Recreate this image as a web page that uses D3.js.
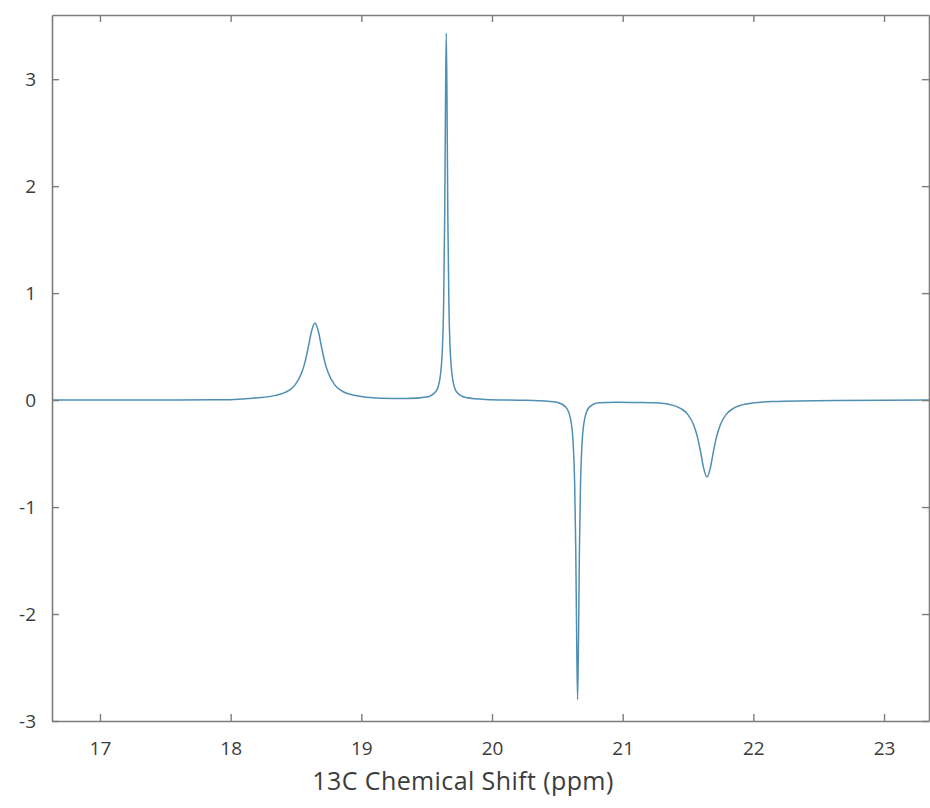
<!DOCTYPE html>
<html>
<head>
<meta charset="utf-8">
<script src="https://cdn.jsdelivr.net/npm/d3@7"></script>
<style>
  body { margin: 0; background: #fff; }
  svg { display: block; }
</style>
</head>
<body>
<svg width="930" height="808"></svg>
<script>
// spectrum points (ppm, intensity)
const ppm = [16.60, 17.00, 17.60, 18.00, 18.145, 18.345, 18.445, 18.495, 18.545, 18.57, 18.595, 18.62, 18.645,
  18.67, 18.695, 18.72, 18.745, 18.795, 18.845, 18.945, 19.145, 19.35, 19.50, 19.57, 19.60, 19.62, 19.63,
  19.638, 19.644, 19.65, 19.656, 19.662, 19.67, 19.68, 19.70, 19.73, 19.80, 19.95, 20.20, 20.36, 20.495,
  20.565, 20.60, 20.62, 20.633, 20.641, 20.648, 20.655, 20.662, 20.669, 20.677, 20.69, 20.71, 20.745,
  20.815, 20.95, 21.10, 21.245, 21.345, 21.445, 21.495, 21.545, 21.575, 21.595, 21.62, 21.645, 21.67,
  21.695, 21.715, 21.745, 21.795, 21.845, 21.945, 22.145, 22.645, 23.40];
const intensity = [0, 0.001, 0.002, 0.004, 0.015, 0.044, 0.09, 0.145, 0.26, 0.36, 0.50, 0.648, 0.72,
  0.648, 0.50, 0.36, 0.26, 0.145, 0.09, 0.045, 0.018, 0.014, 0.028, 0.08, 0.19, 0.47, 0.91,
  1.72, 2.74, 3.43, 2.74, 1.72, 0.91, 0.47, 0.19, 0.076, 0.024, 0.006, -0.001, -0.006, -0.021,
  -0.066, -0.17, -0.386, -0.81, -1.4, -2.24, -2.80, -2.24, -1.4, -0.81, -0.386, -0.17, -0.066,
  -0.025, -0.02, -0.022, -0.025, -0.037, -0.079, -0.129, -0.237, -0.36, -0.477, -0.638, -0.72, -0.638,
  -0.477, -0.36, -0.237, -0.129, -0.079, -0.037, -0.014, -0.004, 0];

const xTicks = [17, 18, 19, 20, 21, 22, 23];
const yTicks = [-3, -2, -1, 0, 1, 2, 3];
const xLabel = '13C Chemical Shift (ppm)';

const svg = d3.select('svg');
const plotLeft = 52, plotRight = 929, plotTop = 15, plotBottom = 721;

const x = d3.scaleLinear().domain([16.633, 23.344]).range([plotLeft, plotRight]);
const y = d3.scaleLinear().domain([-3, 3.6]).range([plotBottom, plotTop]);

const points = ppm.map((p, i) => [p, intensity[i]]);

svg.append('defs').append('clipPath').attr('id', 'clip')
  .append('rect')
  .attr('x', plotLeft).attr('y', plotTop)
  .attr('width', plotRight - plotLeft).attr('height', plotBottom - plotTop);

// spectrum
svg.append('path')
  .datum(points)
  .attr('clip-path', 'url(#clip)')
  .attr('fill', 'none')
  .attr('stroke', '#4f8fb3')
  .attr('stroke-width', 1.5)
  .attr('d', d3.line()
    .x(d => x(d[0]))
    .y(d => y(d[1]))
    .curve(d3.curveMonotoneX));

// axes, ticks pointing inward on all four sides
const tickLen = 7;
const plain = d => String(d);   // hyphen minus like the original
const styleAxis = g => {
  g.select('.domain').attr('stroke', '#7d7d7d').attr('stroke-width', 1.6);
  g.selectAll('.tick line').attr('stroke', '#7d7d7d').attr('stroke-width', 1.4);
  g.selectAll('.tick text')
    .attr('fill', '#3c3c3c')
    .style('font-family', '"Open Sans", sans-serif')
    .style('font-size', '19px');
};

svg.append('g')
  .attr('transform', `translate(0,${plotBottom})`)
  .call(d3.axisBottom(x).tickValues(xTicks).tickSizeInner(-tickLen).tickSizeOuter(0).tickPadding(21)
    .tickFormat(plain))
  .call(styleAxis);

svg.append('g')
  .attr('transform', `translate(0,${plotTop})`)
  .call(d3.axisTop(x).tickValues(xTicks).tickSizeInner(-tickLen).tickSizeOuter(0).tickFormat(''))
  .call(styleAxis);

svg.append('g')
  .attr('transform', `translate(${plotLeft},0)`)
  .call(d3.axisLeft(y).tickValues(yTicks).tickSizeInner(-tickLen).tickSizeOuter(0).tickPadding(16)
    .tickFormat(plain))
  .call(styleAxis);

svg.append('g')
  .attr('transform', `translate(${plotRight},0)`)
  .call(d3.axisRight(y).tickValues(yTicks).tickSizeInner(-tickLen).tickSizeOuter(0).tickFormat(''))
  .call(styleAxis);

// axis title
svg.append('text')
  .attr('x', 463)
  .attr('y', 790)
  .attr('text-anchor', 'middle')
  .attr('fill', '#3c3c3c')
  .style('font-family', '"Open Sans", sans-serif')
  .style('font-size', '25px')
  .style('letter-spacing', '0.4px')
  .text(xLabel);
</script>
</body>
</html>
